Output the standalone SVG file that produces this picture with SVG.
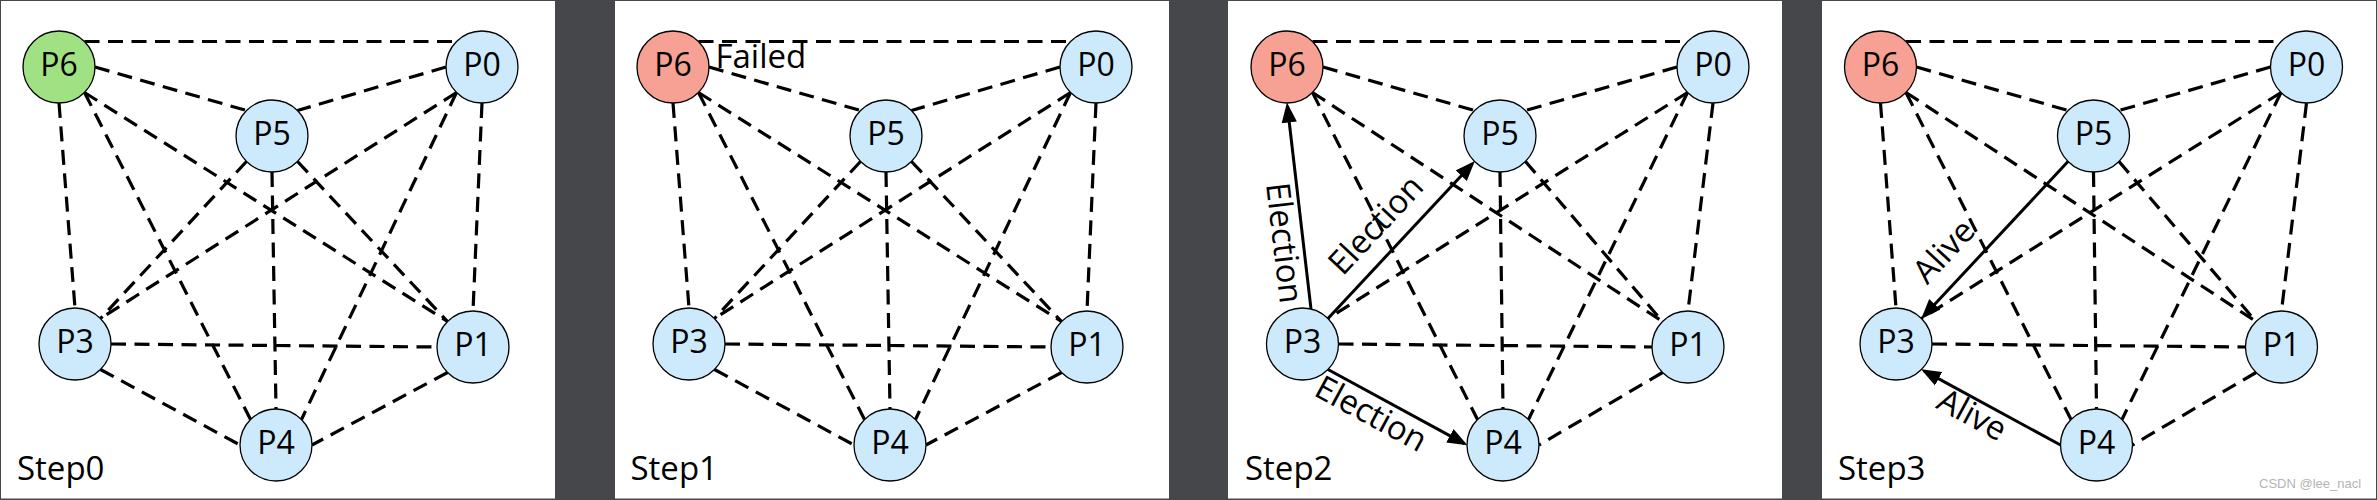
<svg xmlns="http://www.w3.org/2000/svg" width="2377" height="500" viewBox="0 0 2377 500">
<defs>
<style>
.bg{fill:#46474a}
.panel{fill:#ffffff}
.dash{fill:none;stroke:#000;stroke-width:3.2;stroke-dasharray:15 8.5}
.solid{fill:none;stroke:#000;stroke-width:3;marker-end:url(#tri)}
.node{stroke:#000;stroke-width:1.3}
.blue{fill:#cde9fc}
.green{fill:#a0e283}
.red{fill:#f6a193}
.nl{font-family:"Open Sans","Noto Sans",sans-serif;font-size:32px;fill:#000;text-anchor:middle}
.lbl{font-family:"Open Sans","Noto Sans",sans-serif;font-size:33px;fill:#000}
.el{font-family:"Open Sans","Noto Sans",sans-serif;font-size:33px;fill:#000;text-anchor:middle}
.wm{font-family:"Liberation Sans",Arial,sans-serif;font-size:13px;fill:#b3b3b3}
</style>
<marker id="tri" markerUnits="userSpaceOnUse" markerWidth="20" markerHeight="16" viewBox="0 0 17 13" refX="14" refY="6.5" orient="auto">
<path d="M0,0 L17,6.5 L0,13 Z" fill="#000"/>
</marker>
</defs>
<rect class="bg" x="0" y="0" width="2377" height="500"/>
<rect class="panel" x="1" y="1" width="554" height="497.5"/>
<rect class="panel" x="615" y="1" width="554" height="497.5"/>
<rect class="panel" x="1228" y="1" width="554" height="497.5"/>
<rect class="panel" x="1822" y="1" width="554" height="497.5"/>

<!-- Step0 -->
<g transform="translate(0,0)">
<g id="s0-connectors">
<line class="dash" x1="84.5" y1="41.5" x2="456.5" y2="41.5"/>
<line class="dash" x1="95" y1="67" x2="246.5" y2="110.5"/>
<line class="dash" x1="59" y1="103" x2="75" y2="308"/>
<line class="dash" x1="84.5" y1="92.5" x2="250.5" y2="419.5"/>
<line class="dash" x1="84.5" y1="92.5" x2="447.5" y2="321.5"/>
<line class="dash" x1="446" y1="67" x2="297.5" y2="110.5"/>
<line class="dash" x1="456.5" y1="92.5" x2="100.5" y2="318.5"/>
<line class="dash" x1="456.5" y1="92.5" x2="301.5" y2="419.5"/>
<line class="dash" x1="482" y1="103" x2="473" y2="311"/>
<line class="dash" x1="246.5" y1="161.5" x2="100.5" y2="318.5"/>
<line class="dash" x1="272" y1="172" x2="276" y2="409"/>
<line class="dash" x1="297.5" y1="161.5" x2="447.5" y2="321.5"/>
<line class="dash" x1="111" y1="344" x2="437" y2="347"/>
<line class="dash" x1="100.5" y1="369.5" x2="240" y2="445"/>
<line class="dash" x1="447.5" y1="372.5" x2="312" y2="445"/>
</g>
<g id="s0-P6"><circle class="node green" cx="59" cy="67" r="36"/><text class="nl" x="59" y="75.5">P6</text></g>
<g id="s0-P0"><circle class="node blue" cx="482" cy="67" r="36"/><text class="nl" x="482" y="75.5">P0</text></g>
<g id="s0-P5"><circle class="node blue" cx="272" cy="136" r="36"/><text class="nl" x="272" y="144.5">P5</text></g>
<g id="s0-P3"><circle class="node blue" cx="75" cy="344" r="36"/><text class="nl" x="75" y="352.5">P3</text></g>
<g id="s0-P1"><circle class="node blue" cx="473" cy="347" r="36"/><text class="nl" x="473" y="355.5">P1</text></g>
<g id="s0-P4"><circle class="node blue" cx="276" cy="445" r="36"/><text class="nl" x="276" y="453.5">P4</text></g>
<text class="lbl" x="17" y="480">Step0</text>
</g>

<!-- Step1 -->
<g transform="translate(614,0)">
<g id="s1-connectors">
<line class="dash" x1="84.5" y1="41.5" x2="456.5" y2="41.5"/>
<line class="dash" x1="95" y1="67" x2="246.5" y2="110.5"/>
<line class="dash" x1="59" y1="103" x2="75" y2="308"/>
<line class="dash" x1="84.5" y1="92.5" x2="250.5" y2="419.5"/>
<line class="dash" x1="84.5" y1="92.5" x2="447.5" y2="321.5"/>
<line class="dash" x1="446" y1="67" x2="297.5" y2="110.5"/>
<line class="dash" x1="456.5" y1="92.5" x2="100.5" y2="318.5"/>
<line class="dash" x1="456.5" y1="92.5" x2="301.5" y2="419.5"/>
<line class="dash" x1="482" y1="103" x2="473" y2="311"/>
<line class="dash" x1="246.5" y1="161.5" x2="100.5" y2="318.5"/>
<line class="dash" x1="272" y1="172" x2="276" y2="409"/>
<line class="dash" x1="297.5" y1="161.5" x2="447.5" y2="321.5"/>
<line class="dash" x1="111" y1="344" x2="437" y2="347"/>
<line class="dash" x1="100.5" y1="369.5" x2="240" y2="445"/>
<line class="dash" x1="447.5" y1="372.5" x2="312" y2="445"/>
</g>
<g id="s1-P6"><circle class="node red" cx="59" cy="67" r="36"/><text class="nl" x="59" y="75.5">P6</text></g>
<g id="s1-P0"><circle class="node blue" cx="482" cy="67" r="36"/><text class="nl" x="482" y="75.5">P0</text></g>
<g id="s1-P5"><circle class="node blue" cx="272" cy="136" r="36"/><text class="nl" x="272" y="144.5">P5</text></g>
<g id="s1-P3"><circle class="node blue" cx="75" cy="344" r="36"/><text class="nl" x="75" y="352.5">P3</text></g>
<g id="s1-P1"><circle class="node blue" cx="473" cy="347" r="36"/><text class="nl" x="473" y="355.5">P1</text></g>
<g id="s1-P4"><circle class="node blue" cx="276" cy="445" r="36"/><text class="nl" x="276" y="453.5">P4</text></g>
<text class="lbl" x="101.5" y="68">Failed</text>
<text class="lbl" x="16.5" y="480">Step1</text>
</g>

<!-- Step2 -->
<g transform="translate(1228,0)">
<g id="s2-connectors">
<line class="dash" x1="84.5" y1="41.5" x2="459.5" y2="41.5"/>
<line class="dash" x1="95" y1="67" x2="246.5" y2="110.5"/>
<line class="dash" x1="84.5" y1="92.5" x2="249.5" y2="419.5"/>
<line class="dash" x1="84.5" y1="92.5" x2="434.5" y2="321.5"/>
<line class="dash" x1="449" y1="67" x2="297.5" y2="110.5"/>
<line class="dash" x1="459.5" y1="92.5" x2="100" y2="318.5"/>
<line class="dash" x1="459.5" y1="92.5" x2="300.5" y2="419.5"/>
<line class="dash" x1="485" y1="103" x2="460" y2="311"/>
<line class="dash" x1="272" y1="172" x2="275" y2="409"/>
<line class="dash" x1="297.5" y1="161.5" x2="434.5" y2="321.5"/>
<line class="dash" x1="110.5" y1="344" x2="424" y2="347"/>
<line class="dash" x1="434.5" y1="372.5" x2="311" y2="445"/>
<line class="solid" x1="83" y1="309" x2="59.35" y2="106"/>
<line class="solid" x1="100" y1="318.5" x2="244.45" y2="163.69"/>
<line class="solid" x1="100" y1="369.5" x2="236.36" y2="443.57"/>
</g>
<g id="s2-P6"><circle class="node red" cx="59" cy="67" r="36"/><text class="nl" x="59" y="75.5">P6</text></g>
<g id="s2-P0"><circle class="node blue" cx="485" cy="67" r="36"/><text class="nl" x="485" y="75.5">P0</text></g>
<g id="s2-P5"><circle class="node blue" cx="272" cy="136" r="36"/><text class="nl" x="272" y="144.5">P5</text></g>
<g id="s2-P3"><circle class="node blue" cx="74.5" cy="344" r="36"/><text class="nl" x="74.5" y="352.5">P3</text></g>
<g id="s2-P1"><circle class="node blue" cx="460" cy="347" r="36"/><text class="nl" x="460" y="355.5">P1</text></g>
<g id="s2-P4"><circle class="node blue" cx="275" cy="445" r="36"/><text class="nl" x="275" y="453.5">P4</text></g>
<text class="el" transform="translate(56,243) rotate(83.3)" y="11">Election</text>
<text class="el" transform="translate(148,225) rotate(-47)" y="11">Election</text>
<text class="el" transform="translate(143,414) rotate(28.5)" y="11">Election</text>
<text class="lbl" x="17" y="480">Step2</text>
</g>

<!-- Step3 -->
<g transform="translate(1821.5,0)">
<g id="s3-connectors">
<line class="dash" x1="84.5" y1="41.5" x2="459.5" y2="41.5"/>
<line class="dash" x1="95" y1="67" x2="246.5" y2="110.5"/>
<line class="dash" x1="59" y1="103" x2="74.5" y2="308"/>
<line class="dash" x1="84.5" y1="92.5" x2="249.5" y2="419.5"/>
<line class="dash" x1="84.5" y1="92.5" x2="434.5" y2="321.5"/>
<line class="dash" x1="449" y1="67" x2="297.5" y2="110.5"/>
<line class="dash" x1="459.5" y1="92.5" x2="100" y2="318.5"/>
<line class="dash" x1="459.5" y1="92.5" x2="300.5" y2="419.5"/>
<line class="dash" x1="485" y1="103" x2="460" y2="311"/>
<line class="dash" x1="272" y1="172" x2="275" y2="409"/>
<line class="dash" x1="297.5" y1="161.5" x2="434.5" y2="321.5"/>
<line class="dash" x1="110.5" y1="344" x2="424" y2="347"/>
<line class="dash" x1="434.5" y1="372.5" x2="311" y2="445"/>
<line class="solid" x1="246.5" y1="161.5" x2="102.05" y2="316.31"/>
<line class="solid" x1="239" y1="445" x2="102.64" y2="370.93"/>
</g>
<g id="s3-P6"><circle class="node red" cx="59" cy="67" r="36"/><text class="nl" x="59" y="75.5">P6</text></g>
<g id="s3-P0"><circle class="node blue" cx="485" cy="67" r="36"/><text class="nl" x="485" y="75.5">P0</text></g>
<g id="s3-P5"><circle class="node blue" cx="272" cy="136" r="36"/><text class="nl" x="272" y="144.5">P5</text></g>
<g id="s3-P3"><circle class="node blue" cx="74.5" cy="344" r="36"/><text class="nl" x="74.5" y="352.5">P3</text></g>
<g id="s3-P1"><circle class="node blue" cx="460" cy="347" r="36"/><text class="nl" x="460" y="355.5">P1</text></g>
<g id="s3-P4"><circle class="node blue" cx="275" cy="445" r="36"/><text class="nl" x="275" y="453.5">P4</text></g>
<text class="el" transform="translate(122.5,251.5) rotate(-47)" y="11">Alive</text>
<text class="el" transform="translate(150.5,415) rotate(28.4)" y="11">Alive</text>
<text class="lbl" x="16.5" y="480">Step3</text>
</g>
<text class="wm" x="2259" y="488">CSDN @lee_nacl</text>
</svg>
